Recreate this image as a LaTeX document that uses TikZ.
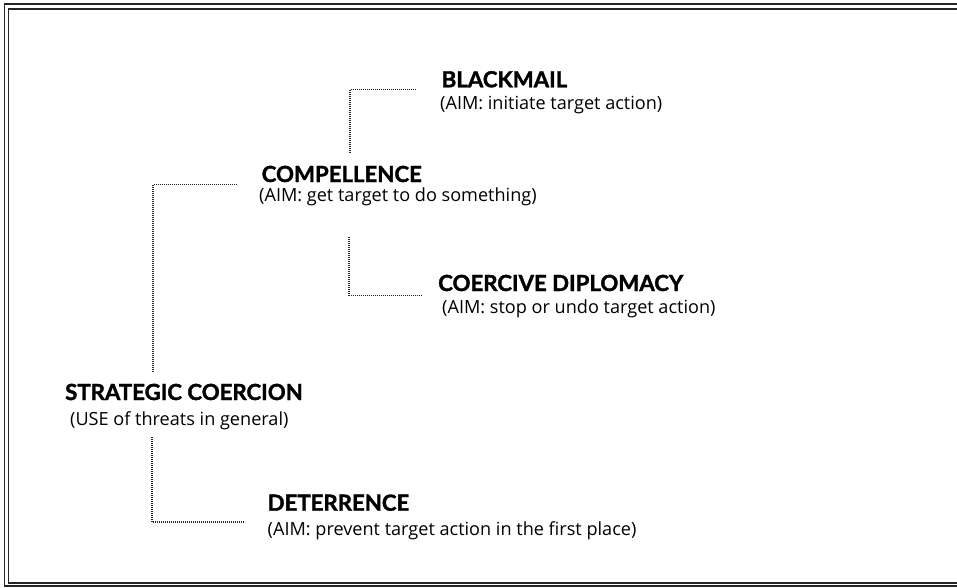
\documentclass[tikz,border=0pt]{standalone}
\usepackage{fontspec}
\setmainfont{Open Sans}
\newfontfamily\headfont[BoldFeatures={FakeBold=1.6}]{Lato}
\begin{document}
\begin{tikzpicture}[x=1pt,y=-1pt,
  head/.style={anchor=base west,inner sep=0pt,font=\headfont\bfseries\fontsize{22.2}{24}\selectfont,text=black},
  sub/.style={anchor=base west,inner sep=0pt,font=\fontsize{18.1}{20}\selectfont,text=black},
  conn/.style={draw=black!85,line width=1.2pt,dash pattern=on 0.9pt off 1.1pt},
  frameline/.style={draw=black!85,line width=1.5pt}]
\useasboundingbox (0,0) rectangle (957,587);
% frame
\draw[frameline] (957,4) -- (4.5,4) -- (4.5,586) -- (957,586);
\draw[frameline] (957,9) -- (8.5,9) -- (8.5,583) -- (957,583);
% texts
\node[head] (bh) at (441.5,87.3) {BLACKMAIL};
\node[sub]  (bs) at (440,109) {(AIM: initiate target action)};
\node[head] (ch) at (261.5,182) {COMPELLENCE};
\node[sub]  (cs) at (259,201.7) {(AIM: get target to do something)};
\node[head] (dh) at (438,291) {COERCIVE DIPLOMACY};
\node[sub]  (ds) at (442,313) {(AIM: stop or undo target action)};
\node[head] (sh) at (65,400) {STRATEGIC COERCION};
\node[sub]  (ss) at (70,425) {(USE of threats in general)};
\node[head] (th) at (267.5,510.7) {DETERRENCE};
\node[sub]  (ts) at (267.5,535) {(AIM: prevent target action in the first place)};
% connector coordinates
\coordinate (s1) at (153,372);
\coordinate (c1) at (153,184.5);
\coordinate (e1) at (237,184.5);
\coordinate (s2) at (350,153);
\coordinate (c2) at (350,89.5);
\coordinate (e2) at (416,89.5);
\coordinate (s3) at (349,237);
\coordinate (c3) at (349,295.5);
\coordinate (e3) at (421,295.5);
\coordinate (s4) at (152,437);
\coordinate (c4) at (152,522);
\coordinate (e4) at (245,522);
\draw[conn] (s1) -- (c1) -- (e1);
\draw[conn] (s2) -- (c2) -- (e2);
\draw[conn] (s3) -- (c3) -- (e3);
\draw[conn] (s4) -- (c4) -- (e4);
\end{tikzpicture}
\end{document}
